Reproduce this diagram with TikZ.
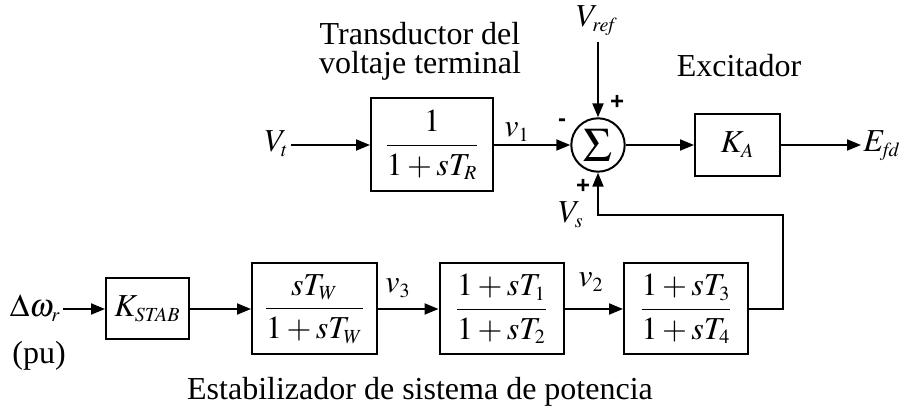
\documentclass[tikz,border=0pt]{standalone}
\usepackage{amsmath}
\usepackage{mathptmx}
\usepackage[no-math]{fontspec}
\setmainfont{Liberation Serif}
\newfontfamily\signfont{Liberation Sans}
\DeclareMathSizes{16}{16}{10}{8}
\usetikzlibrary{arrows.meta}
\tikzset{
  blk/.style={draw, line width=1pt, inner sep=0pt, font=\fontsize{16}{19}\selectfont},
  arr/.style={line width=1pt, -{Triangle[length=7pt,width=5.5pt]}},
  lbl/.style={inner sep=1pt, font=\fontsize{16}{19}\selectfont},
  txt/.style={inner sep=0pt, font=\fontsize{16}{19}\selectfont},
  sgn/.style={inner sep=0pt, font=\signfont\bfseries\fontsize{12}{12}\selectfont},
}
\begin{document}
\begin{tikzpicture}[x=0.5pt, y=-0.5pt]
\useasboundingbox (0,0) rectangle (904,410);

% top row
\node[blk, minimum width=61pt, minimum height=46.5pt] (tr) at (432,145) {$\dfrac{1}{1+sT_R}$};
\node[lbl, anchor=base east] (vt) at (291,152) {$V_t$};
\node[draw, circle, line width=1pt, minimum size=26.7pt, inner sep=0pt, font=\fontsize{24}{24}\selectfont] (sum) at (598,145) {$\Sigma$};
\node[blk, minimum width=42.5pt, minimum height=31pt] (ka) at (737.5,145) {$K_A$};
\node[lbl, anchor=base west] (efd) at (861,152) {$E_{\mathit{fd}}$};
\node[lbl, anchor=base] (vref) at (597,27) {$V_{\mathit{ref}}$};
\coordinate (vreft) at (598,42);
\node[lbl, anchor=base] (v1) at (517,137) {$v_1$};
\node[sgn] (mneg) at (562,123) {-};
\node[sgn] (ptop) at (617,102) {+};
\node[sgn] (pbot) at (583,186) {+};
\node[lbl, anchor=base] (vs) at (571,223) {$V_s$};
\node[txt, anchor=base] (trans1) at (420,45) {Transductor del};
\node[txt, anchor=base] (trans2) at (420,74) {voltaje terminal};
\node[txt, anchor=base] (exc) at (739,77) {Excitador};

% bottom row
\node[lbl, anchor=base east] (dw) at (63,317) {$\Delta\omega_r$};
\node[txt, anchor=base] (pu) at (39,364) {(pu)};
\node[blk, minimum width=41.5pt, minimum height=30.5pt] (kstab) at (147.5,309) {$K_{\mathit{STAB}}$};
\node[blk, minimum width=62.5pt, minimum height=45.5pt] (bw) at (314.5,309) {$\dfrac{sT_W}{1+sT_W}$};
\node[blk, minimum width=62pt, minimum height=45.5pt] (b12) at (501.5,309) {$\dfrac{1+sT_1}{1+sT_2}$};
\node[blk, minimum width=62pt, minimum height=45.5pt] (b34) at (686,309) {$\dfrac{1+sT_3}{1+sT_4}$};
\node[lbl, anchor=base] (v3) at (398,293) {$v_3$};
\node[lbl, anchor=base] (v2) at (591,287) {$v_2$};
\node[txt, anchor=base] (pss) at (420,400) {Estabilizador de sistema de potencia};
\coordinate (fb) at (783,215);

% connectors
\draw[arr] (vt.east |- tr.west) -- (tr.west);
\draw[arr] (tr.east) -- (sum.west);
\draw[arr] (vreft) -- (sum.north);
\draw[arr] (sum.east) -- (ka.west);
\draw[arr] (ka.east) -- (ka.east -| efd.west);
\draw[arr] (dw.east |- kstab.west) -- (kstab.west);
\draw[arr] (kstab.east) -- (bw.west);
\draw[arr] (bw.east) -- (b12.west);
\draw[arr] (b12.east) -- (b34.west);
\draw[arr] (b34.east) -| (fb) -| (sum.south);
\end{tikzpicture}
\end{document}
